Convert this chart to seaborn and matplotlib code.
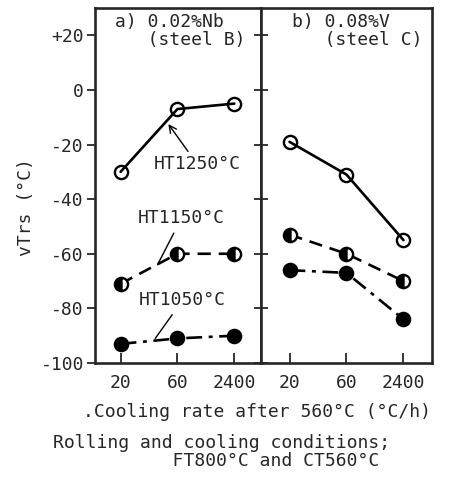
import numpy as np
import pandas as pd
import matplotlib
matplotlib.use("Agg")
import matplotlib.pyplot as plt
import seaborn as sns

sns.set_style("ticks")
plt.rcParams['font.family'] = ['DejaVu Sans Mono', 'DejaVu Sans']

rates = ["20", "60", "2400"]
ht_labels = ["HT1250°C", "HT1150°C", "HT1050°C"]

# panel a) 0.02%Nb (steel B)
a_ht1250 = [-30, -7, -5]
a_ht1150 = [-71, -60, -60]
a_ht1050 = [-93, -91, -90]
# panel b) 0.08%V (steel C)
b_ht1250 = [-19, -31, -55]
b_ht1150 = [-53, -60, -70]
b_ht1050 = [-66, -67, -84]

yticks = [20, 0, -20, -40, -60, -80, -100]
ytick_labels = ["+20", "0", "-20", "-40", "-60", "-80", "-100"]

FS = 13

fig = plt.figure(figsize=(4.49, 4.86), dpi=100)
ax_a = fig.add_axes([0.2116, 0.2531, 0.3697, 0.7304])
ax_b = fig.add_axes([0.5813, 0.2531, 0.3808, 0.7304])

styles = [
    dict(ls="-", fill="none"),
    dict(ls=(0, (5, 3)), fill="left"),
    dict(ls=(0, (6, 2.5, 1.5, 2.5)), fill="full"),
]

def draw(ax, series):
    x = np.arange(len(rates))
    for vals, st in zip(series, styles):
        df = pd.DataFrame({"x": x, "y": vals})
        sns.lineplot(data=df, x="x", y="y", ax=ax, color="black", lw=1.9,
                     linestyle=st["ls"], legend=False)
        ax.plot(x, vals, ls="none", marker="o", ms=9.5, mec="black", mew=1.7,
                fillstyle=st["fill"], mfc="white" if st["fill"] == "none" else "black",
                markerfacecoloralt="white", zorder=5)
    ax.set_ylim(-100, 30)
    ax.set_xticks(x)
    ax.set_xticklabels(rates, fontsize=FS)
    ax.set_xlabel("")
    ax.set_ylabel("")
    for s in ax.spines.values():
        s.set_linewidth(1.9)
        s.set_visible(True)

draw(ax_a, [a_ht1250, a_ht1150, a_ht1050])
draw(ax_b, [b_ht1250, b_ht1150, b_ht1050])

ax_a.set_xlim(-0.45, 2.47)
ax_b.set_xlim(-0.5, 2.5)

ax_a.set_yticks(yticks)
ax_a.set_yticklabels(ytick_labels, fontsize=FS)
ax_a.tick_params(axis="y", direction="out", length=6, width=1.3, pad=2)
ax_a.tick_params(axis="x", direction="in", length=7, width=1.3, pad=8)
ax_b.set_yticks(yticks)
ax_b.set_yticklabels([])
ax_b.tick_params(axis="y", direction="inout", length=10, width=1.3)
ax_b.tick_params(axis="x", direction="in", length=7, width=1.3, pad=8)

ax_a.set_ylabel("vTrs (°C)", fontsize=FS, labelpad=4)
ax_a.yaxis.set_label_coords(-0.36, 0.44)

ax_a.text(0.12, 0.985, "a) 0.02%Nb\n   (steel B)", transform=ax_a.transAxes,
          fontsize=FS, va="top", ha="left", linespacing=0.95)
ax_b.text(0.18, 0.985, "b) 0.08%V\n   (steel C)", transform=ax_b.transAxes,
          fontsize=FS, va="top", ha="left", linespacing=0.95, clip_on=False)

ann = dict(fontsize=FS, ha="center", va="center",
           arrowprops=dict(arrowstyle="-", color="black", lw=1.0, shrinkA=2, shrinkB=0))
ax_a.annotate("HT1250°C", xy=(0.84, -12.5), xytext=(1.35, -27),
              arrowprops=dict(arrowstyle="->", color="black", lw=1.0, shrinkA=0,
                              shrinkB=0, relpos=(0.42, 1.0)),
              fontsize=FS, ha="center", va="center")
ax_a.annotate("HT1150°C", xy=(0.65, -64), xytext=(1.07, -47), **ann)
ax_a.annotate("HT1050°C", xy=(0.61, -91), xytext=(1.09, -77), **ann)

fig.text(0.572, 0.152, ".Cooling rate after 560°C (°C/h)", fontsize=FS,
         ha="center", va="center")
fig.text(0.118, 0.07, "Rolling and cooling conditions;\n           FT800°C and CT560°C",
         fontsize=FS, ha="left", va="center", linespacing=1.0)

fig.savefig("out.png", dpi=100)
